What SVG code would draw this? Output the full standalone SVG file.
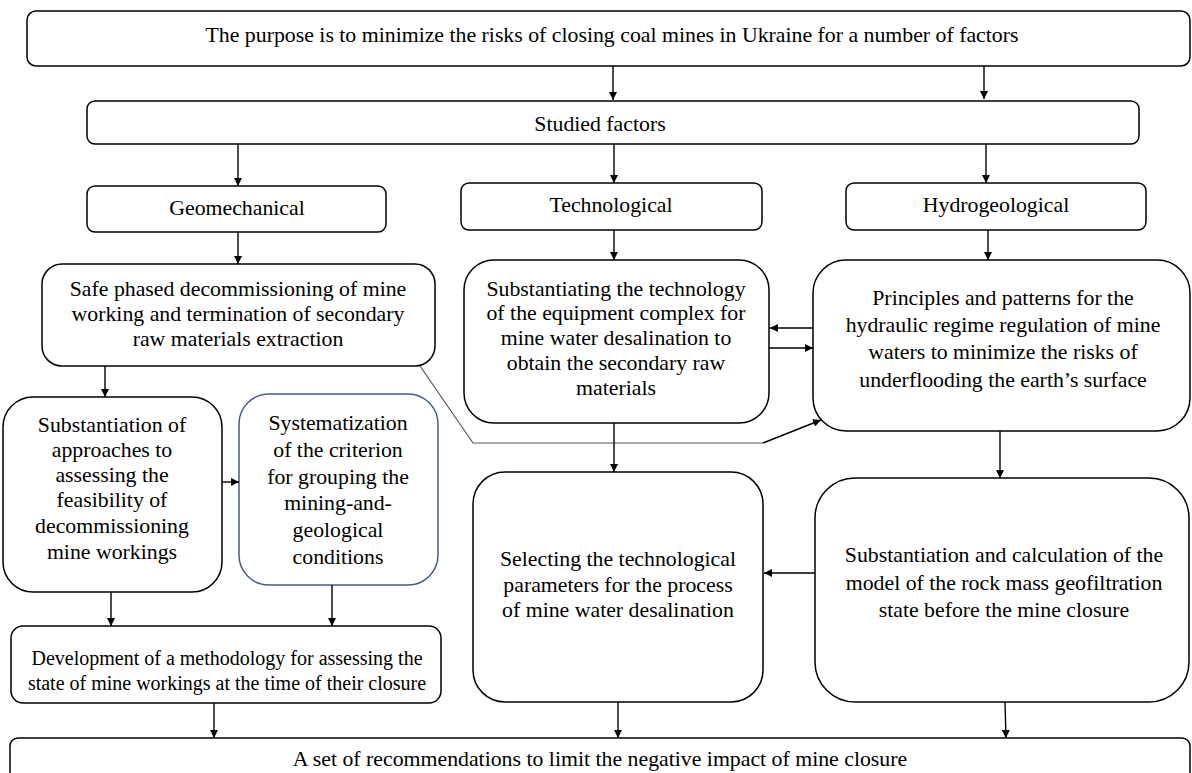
<svg xmlns="http://www.w3.org/2000/svg" width="1192" height="773" viewBox="0 0 1192 773">
<defs>
<style>
.box{fill:#fff;stroke:#000;stroke-width:1.5}
.blue{stroke:#4a5d7e}
text{font-family:"Liberation Serif","Times New Roman",serif;font-size:21.8px;fill:#000;text-anchor:middle}
.sm{font-size:20px}
.c{fill:none;stroke:#000;stroke-width:1.4}
.g{fill:none;stroke:#555;stroke-width:1.2}
</style>
<marker id="ah" viewBox="0 0 10 10" refX="10" refY="5" markerWidth="8" markerHeight="8" markerUnits="userSpaceOnUse" orient="auto">
<path d="M0,0 L10,5 L0,10 z" fill="#000"/>
</marker>
</defs>
<rect width="1192" height="773" fill="#fff"/>

<g id="n-purpose"><rect class="box" x="27" y="11" width="1163" height="55" rx="9"/><text x="612" y="42">The purpose is to minimize the risks of closing coal mines in Ukraine for a number of factors</text></g>
<g id="n-studied"><rect class="box" x="87" y="101" width="1052" height="43" rx="8"/><text x="600" y="131">Studied factors</text></g>
<g id="n-geomech"><rect class="box" x="87" y="186" width="299" height="46" rx="8"/><text x="237" y="215">Geomechanical</text></g>
<g id="n-tech"><rect class="box" x="461" y="183" width="301" height="47" rx="8"/><text x="611" y="212">Technological</text></g>
<g id="n-hydro"><rect class="box" x="846" y="183" width="300" height="47" rx="8"/><text x="996" y="212">Hydrogeological</text></g>

<g id="n-safe"><rect class="box" x="42" y="264" width="393" height="102" rx="20"/>
<text x="238" y="296">Safe phased decommissioning of mine</text>
<text x="238" y="321">working and termination of secondary</text>
<text x="238" y="346">raw materials extraction</text></g>

<g id="n-substtech"><rect class="box" x="464" y="260" width="305" height="163" rx="30"/>
<text x="616" y="296">Substantiating the technology</text>
<text x="616" y="320">of the equipment complex for</text>
<text x="616" y="345">mine water desalination to</text>
<text x="616" y="370">obtain the secondary raw</text>
<text x="616" y="395">materials</text></g>

<g id="n-principles"><rect class="box" x="813" y="260" width="377" height="171" rx="33"/>
<text x="1003" y="305">Principles and patterns for the</text>
<text x="1003" y="332">hydraulic regime regulation of mine</text>
<text x="1003" y="359">waters to minimize the risks of</text>
<text x="1003" y="387">underflooding the earth’s surface</text></g>

<g id="n-approaches"><rect class="box" x="3" y="397" width="219" height="195" rx="30"/>
<text x="112" y="432">Substantiation of</text>
<text x="112" y="457">approaches to</text>
<text x="112" y="482">assessing the</text>
<text x="112" y="507">feasibility of</text>
<text x="112" y="533">decommissioning</text>
<text x="112" y="559">mine workings</text></g>

<g id="n-system"><rect class="box blue" x="239" y="394" width="199" height="191" rx="30"/>
<text x="338" y="430">Systematization</text>
<text x="338" y="457">of the criterion</text>
<text x="338" y="484">for grouping the</text>
<text x="338" y="510">mining-and-</text>
<text x="338" y="537">geological</text>
<text x="338" y="564">conditions</text></g>

<g id="n-select"><rect class="box" x="473" y="472" width="290" height="230" rx="32"/>
<text x="618" y="566">Selecting the technological</text>
<text x="618" y="592">parameters for the process</text>
<text x="618" y="617">of mine water desalination</text></g>

<g id="n-calc"><rect class="box" x="815" y="478" width="374" height="224" rx="40"/>
<text x="1004" y="562">Substantiation and calculation of the</text>
<text x="1004" y="590">model of the rock mass geofiltration</text>
<text x="1004" y="617">state before the mine closure</text></g>

<g id="n-method"><rect class="box" x="11" y="626" width="430" height="77" rx="12"/>
<text class="sm" x="227" y="665">Development of a methodology for assessing the</text>
<text class="sm" x="227" y="690">state of mine workings at the time of their closure</text></g>

<g id="n-recommend"><rect class="box" x="10" y="738" width="1180" height="60" rx="8"/>
<text x="600" y="766">A set of recommendations to limit the negative impact of mine closure</text></g>

<g id="connectors">
<line class="c" x1="613" y1="66" x2="613" y2="100" marker-end="url(#ah)"/>
<line class="c" x1="984" y1="66" x2="984" y2="99" marker-end="url(#ah)"/>
<line class="c" x1="238" y1="144" x2="238" y2="186" marker-end="url(#ah)"/>
<line class="c" x1="614" y1="144" x2="614" y2="183" marker-end="url(#ah)"/>
<line class="c" x1="986" y1="144" x2="986" y2="183" marker-end="url(#ah)"/>
<line class="c" x1="238" y1="232" x2="238" y2="264" marker-end="url(#ah)"/>
<line class="c" x1="614" y1="230" x2="614" y2="260" marker-end="url(#ah)"/>
<line class="c" x1="988" y1="230" x2="988" y2="260" marker-end="url(#ah)"/>
<line class="c" x1="105" y1="366" x2="105" y2="397" marker-end="url(#ah)"/>
<line class="c" x1="222" y1="482" x2="239" y2="482" marker-end="url(#ah)"/>
<line class="c" x1="813" y1="328" x2="770" y2="328" marker-end="url(#ah)"/>
<line class="c" x1="769" y1="348" x2="813" y2="348" marker-end="url(#ah)"/>
<polyline class="g" points="420,366 473,443 763,443"/>
<line class="c" x1="763" y1="443" x2="821" y2="420" marker-end="url(#ah)"/>
<line class="c" x1="614" y1="423" x2="614" y2="472" marker-end="url(#ah)"/>
<line class="c" x1="1000" y1="431" x2="1000" y2="478" marker-end="url(#ah)"/>
<line class="c" x1="815" y1="573" x2="764" y2="573" marker-end="url(#ah)"/>
<line class="c" x1="111" y1="592" x2="111" y2="626" marker-end="url(#ah)"/>
<line class="c" x1="332" y1="585" x2="332" y2="626" marker-end="url(#ah)"/>
<line class="c" x1="214" y1="703" x2="214" y2="738" marker-end="url(#ah)"/>
<line class="c" x1="618" y1="702" x2="618" y2="738" marker-end="url(#ah)"/>
<line class="c" x1="1005" y1="702" x2="1006" y2="738" marker-end="url(#ah)"/>
</g>
</svg>
